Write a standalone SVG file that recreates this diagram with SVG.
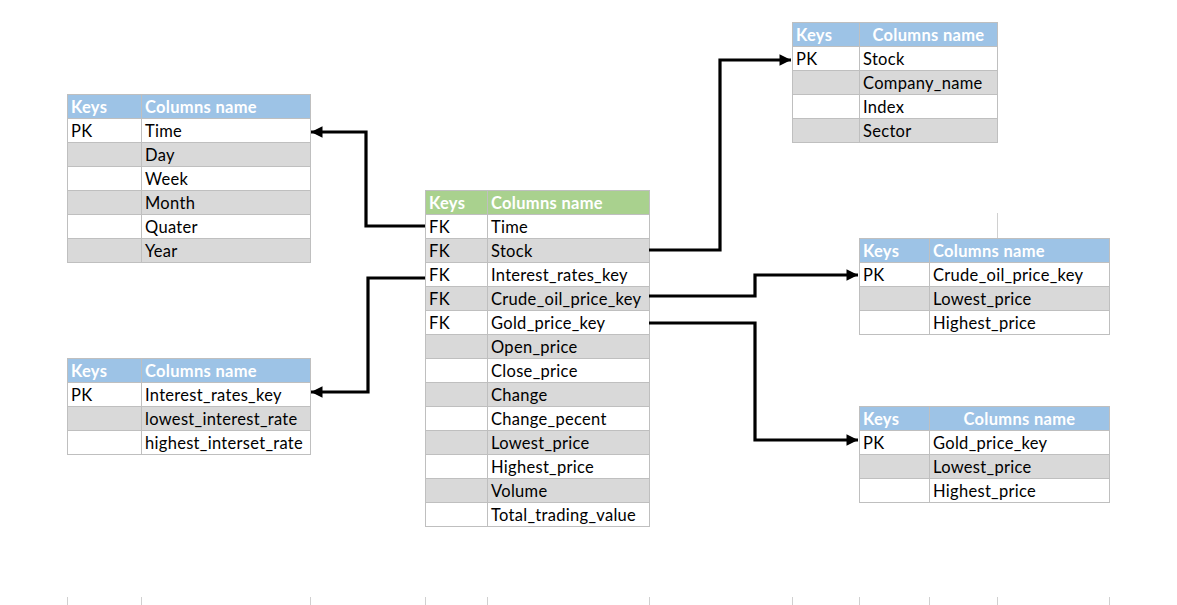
<svg xmlns="http://www.w3.org/2000/svg" width="1177" height="605" viewBox="0 0 1177 605">
<defs>
<style>
.cell{stroke:#BFBFBF;stroke-width:1;fill:#FFFFFF}
.g{fill:#D9D9D9}
.hb{fill:#9DC3E6;stroke:#BFBFBF;stroke-width:1}
.hg{fill:#A9D18E;stroke:#BFBFBF;stroke-width:1}
text{font-family:Lato,"Liberation Sans",sans-serif;font-size:16.5px;letter-spacing:0.3px;fill:#000}
.h{fill:#FFFFFF;font-weight:bold}
.c{text-anchor:middle}
.conn{fill:none;stroke:#000;stroke-width:3.2}
.tick{stroke:#D0D0D0;stroke-width:1}
</style>
<marker id="arr" viewBox="0 0 10 10" refX="10" refY="5" markerWidth="3.8" markerHeight="3.6" orient="auto" markerUnits="strokeWidth">
<path d="M0,0 L10,5 L0,10 z" fill="#000"/>
</marker>
</defs>
<rect width="1177" height="605" fill="#FFFFFF"/>
<g id="ticks">
<line class="tick" x1="67.5" y1="597" x2="67.5" y2="605"/>
<line class="tick" x1="141.5" y1="597" x2="141.5" y2="605"/>
<line class="tick" x1="310.5" y1="597" x2="310.5" y2="605"/>
<line class="tick" x1="425.5" y1="597" x2="425.5" y2="605"/>
<line class="tick" x1="487.5" y1="597" x2="487.5" y2="605"/>
<line class="tick" x1="649.5" y1="597" x2="649.5" y2="605"/>
<line class="tick" x1="792.5" y1="597" x2="792.5" y2="605"/>
<line class="tick" x1="859.5" y1="597" x2="859.5" y2="605"/>
<line class="tick" x1="929.5" y1="597" x2="929.5" y2="605"/>
<line class="tick" x1="997.5" y1="597" x2="997.5" y2="605"/>
<line class="tick" x1="1109.5" y1="597" x2="1109.5" y2="605"/>
<line class="tick" x1="997.5" y1="213" x2="997.5" y2="238"/>
</g>

<g id="time_table">
<rect class="hb" x="67.5" y="94.5" width="74" height="24"/><rect class="hb" x="141.5" y="94.5" width="169" height="24"/>
<text class="h" x="71" y="113">Keys</text><text class="h" x="145" y="113">Columns name</text>
<rect class="cell" x="67.5" y="118.5" width="74" height="24"/><rect class="cell" x="141.5" y="118.5" width="169" height="24"/>
<rect class="cell g" x="67.5" y="142.5" width="74" height="24"/><rect class="cell g" x="141.5" y="142.5" width="169" height="24"/>
<rect class="cell" x="67.5" y="166.5" width="74" height="24"/><rect class="cell" x="141.5" y="166.5" width="169" height="24"/>
<rect class="cell g" x="67.5" y="190.5" width="74" height="24"/><rect class="cell g" x="141.5" y="190.5" width="169" height="24"/>
<rect class="cell" x="67.5" y="214.5" width="74" height="24"/><rect class="cell" x="141.5" y="214.5" width="169" height="24"/>
<rect class="cell g" x="67.5" y="238.5" width="74" height="24"/><rect class="cell g" x="141.5" y="238.5" width="169" height="24"/>
<text x="71" y="137">PK</text><text x="145" y="137">Time</text>
<text x="145" y="161">Day</text>
<text x="145" y="185">Week</text>
<text x="145" y="209">Month</text>
<text x="145" y="233">Quater</text>
<text x="145" y="257">Year</text>
</g>

<g id="interest_table">
<rect class="hb" x="67.5" y="358.5" width="74" height="24"/><rect class="hb" x="141.5" y="358.5" width="169" height="24"/>
<text class="h" x="71" y="377">Keys</text><text class="h" x="145" y="377">Columns name</text>
<rect class="cell" x="67.5" y="382.5" width="74" height="24"/><rect class="cell" x="141.5" y="382.5" width="169" height="24"/>
<rect class="cell g" x="67.5" y="406.5" width="74" height="24"/><rect class="cell g" x="141.5" y="406.5" width="169" height="24"/>
<rect class="cell" x="67.5" y="430.5" width="74" height="24"/><rect class="cell" x="141.5" y="430.5" width="169" height="24"/>
<text x="71" y="401">PK</text><text x="145" y="401">Interest_rates_key</text>
<text x="145" y="425">lowest_interest_rate</text>
<text x="145" y="449">highest_interset_rate</text>
</g>

<g id="fact_table">
<rect class="hg" x="425.5" y="190.5" width="62" height="24"/><rect class="hg" x="487.5" y="190.5" width="162" height="24"/>
<text class="h" x="429" y="209">Keys</text><text class="h" x="491" y="209">Columns name</text>
<rect class="cell" x="425.5" y="214.5" width="62" height="24"/><rect class="cell" x="487.5" y="214.5" width="162" height="24"/>
<rect class="cell g" x="425.5" y="238.5" width="62" height="24"/><rect class="cell g" x="487.5" y="238.5" width="162" height="24"/>
<rect class="cell" x="425.5" y="262.5" width="62" height="24"/><rect class="cell" x="487.5" y="262.5" width="162" height="24"/>
<rect class="cell g" x="425.5" y="286.5" width="62" height="24"/><rect class="cell g" x="487.5" y="286.5" width="162" height="24"/>
<rect class="cell" x="425.5" y="310.5" width="62" height="24"/><rect class="cell" x="487.5" y="310.5" width="162" height="24"/>
<rect class="cell g" x="425.5" y="334.5" width="62" height="24"/><rect class="cell g" x="487.5" y="334.5" width="162" height="24"/>
<rect class="cell" x="425.5" y="358.5" width="62" height="24"/><rect class="cell" x="487.5" y="358.5" width="162" height="24"/>
<rect class="cell g" x="425.5" y="382.5" width="62" height="24"/><rect class="cell g" x="487.5" y="382.5" width="162" height="24"/>
<rect class="cell" x="425.5" y="406.5" width="62" height="24"/><rect class="cell" x="487.5" y="406.5" width="162" height="24"/>
<rect class="cell g" x="425.5" y="430.5" width="62" height="24"/><rect class="cell g" x="487.5" y="430.5" width="162" height="24"/>
<rect class="cell" x="425.5" y="454.5" width="62" height="24"/><rect class="cell" x="487.5" y="454.5" width="162" height="24"/>
<rect class="cell g" x="425.5" y="478.5" width="62" height="24"/><rect class="cell g" x="487.5" y="478.5" width="162" height="24"/>
<rect class="cell" x="425.5" y="502.5" width="62" height="24"/><rect class="cell" x="487.5" y="502.5" width="162" height="24"/>
<text x="429" y="233">FK</text><text x="491" y="233">Time</text>
<text x="429" y="257">FK</text><text x="491" y="257">Stock</text>
<text x="429" y="281">FK</text><text x="491" y="281">Interest_rates_key</text>
<text x="429" y="305">FK</text><text x="491" y="305">Crude_oil_price_key</text>
<text x="429" y="329">FK</text><text x="491" y="329">Gold_price_key</text>
<text x="491" y="353">Open_price</text>
<text x="491" y="377">Close_price</text>
<text x="491" y="401">Change</text>
<text x="491" y="425">Change_pecent</text>
<text x="491" y="449">Lowest_price</text>
<text x="491" y="473">Highest_price</text>
<text x="491" y="497">Volume</text>
<text x="491" y="521">Total_trading_value</text>
</g>

<g id="stock_table">
<rect class="hb" x="792.5" y="22.5" width="67" height="24"/><rect class="hb" x="859.5" y="22.5" width="138" height="24"/>
<text class="h" x="796" y="41">Keys</text><text class="h c" x="928.5" y="41">Columns name</text>
<rect class="cell" x="792.5" y="46.5" width="67" height="24"/><rect class="cell" x="859.5" y="46.5" width="138" height="24"/>
<rect class="cell g" x="792.5" y="70.5" width="67" height="24"/><rect class="cell g" x="859.5" y="70.5" width="138" height="24"/>
<rect class="cell" x="792.5" y="94.5" width="67" height="24"/><rect class="cell" x="859.5" y="94.5" width="138" height="24"/>
<rect class="cell g" x="792.5" y="118.5" width="67" height="24"/><rect class="cell g" x="859.5" y="118.5" width="138" height="24"/>
<text x="796" y="65">PK</text><text x="863" y="65">Stock</text>
<text x="863" y="89">Company_name</text>
<text x="863" y="113">Index</text>
<text x="863" y="137">Sector</text>
</g>

<g id="crude_table">
<rect class="hb" x="859.5" y="238.5" width="70" height="24"/><rect class="hb" x="929.5" y="238.5" width="180" height="24"/>
<text class="h" x="863" y="257">Keys</text><text class="h" x="933" y="257">Columns name</text>
<rect class="cell" x="859.5" y="262.5" width="70" height="24"/><rect class="cell" x="929.5" y="262.5" width="180" height="24"/>
<rect class="cell g" x="859.5" y="286.5" width="70" height="24"/><rect class="cell g" x="929.5" y="286.5" width="180" height="24"/>
<rect class="cell" x="859.5" y="310.5" width="70" height="24"/><rect class="cell" x="929.5" y="310.5" width="180" height="24"/>
<text x="863" y="281">PK</text><text x="933" y="281">Crude_oil_price_key</text>
<text x="933" y="305">Lowest_price</text>
<text x="933" y="329">Highest_price</text>
</g>

<g id="gold_table">
<rect class="hb" x="859.5" y="406.5" width="70" height="24"/><rect class="hb" x="929.5" y="406.5" width="180" height="24"/>
<text class="h" x="863" y="425">Keys</text><text class="h c" x="1019.5" y="425">Columns name</text>
<rect class="cell" x="859.5" y="430.5" width="70" height="24"/><rect class="cell" x="929.5" y="430.5" width="180" height="24"/>
<rect class="cell g" x="859.5" y="454.5" width="70" height="24"/><rect class="cell g" x="929.5" y="454.5" width="180" height="24"/>
<rect class="cell" x="859.5" y="478.5" width="70" height="24"/><rect class="cell" x="929.5" y="478.5" width="180" height="24"/>
<text x="863" y="449">PK</text><text x="933" y="449">Gold_price_key</text>
<text x="933" y="473">Lowest_price</text>
<text x="933" y="497">Highest_price</text>
</g>

<g id="connectors">
<polyline class="conn" points="425,226 366,226 366,132 311,132" marker-end="url(#arr)"/>
<polyline class="conn" points="649,250 720,250 720,60 791,60" marker-end="url(#arr)"/>
<polyline class="conn" points="425,278 368,278 368,392 311,392" marker-end="url(#arr)"/>
<polyline class="conn" points="649,296 755,296 755,275 858,275" marker-end="url(#arr)"/>
<polyline class="conn" points="649,323 755,323 755,440 858,440" marker-end="url(#arr)"/>
</g>
</svg>
